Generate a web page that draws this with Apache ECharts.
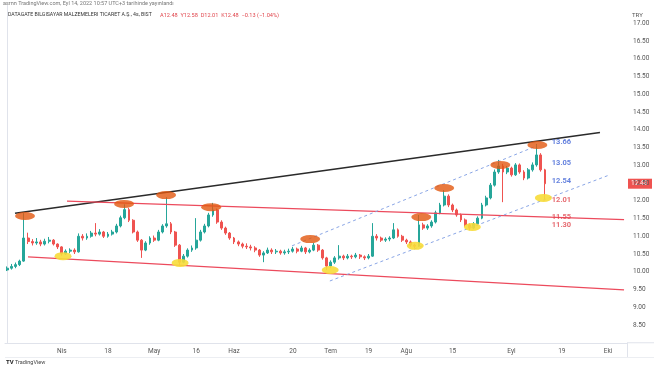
<!DOCTYPE html>
<html><head><meta charset="utf-8">
<script src="https://cdn.jsdelivr.net/npm/echarts@6/dist/echarts.min.js"></script>
<style>html,body{margin:0;padding:0;background:#fff}#c{width:654px;height:366px}</style>
</head><body><div id="c"></div>
<script>
// ---- data ----
const slotCount = 148; // trading-day slots on the time axis (incl. empty future space)
const xLabelIdx  = [13, 24, 35, 45, 54, 68, 77, 86, 95, 106, 120, 132, 143];
const xLabelText = ['Nis', '18', 'May', '16', 'Haz', '20', 'Tem', '19', 'Ağu', '15', 'Eyl', '19', 'Eki'];

const openV = [
 10.05,10.10,10.15,10.20,10.30,10.95,10.85,10.81,10.84,10.78,
 10.86,10.89,10.78,10.70,10.50,10.58,10.61,10.56,11.00,10.95,
 11.00,11.09,11.06,11.12,11.00,11.06,11.12,11.29,11.52,11.75,
 11.45,11.12,10.89,10.61,10.81,10.95,10.89,11.12,11.29,11.35,
 11.12,10.75,10.27,10.44,10.61,10.67,10.89,11.12,11.29,11.60,
 11.74,11.40,11.23,11.09,10.95,10.84,10.78,10.72,10.70,10.67,
 10.61,10.47,10.53,10.61,10.56,10.58,10.53,10.56,10.58,10.64,
 10.58,10.67,10.56,10.61,10.75,10.61,10.39,10.16,10.27,10.39,
 10.44,10.39,10.44,10.42,10.47,10.42,10.39,10.44,11.00,10.95,
 10.89,10.92,10.95,11.18,11.00,10.89,10.84,10.75,10.72,11.32,
 11.23,11.29,11.40,11.66,11.88,12.13,11.88,11.74,11.60,11.46,
 11.32,11.23,11.35,11.51,11.88,12.08,12.44,12.81,12.98,12.81,
 12.92,12.73,13.01,12.81,12.64,12.87,13.01,13.29,12.87];
const closeV = [
 10.10,10.15,10.20,10.30,10.95,10.85,10.81,10.84,10.78,10.86,
 10.89,10.78,10.70,10.50,10.58,10.61,10.56,11.00,10.95,11.00,
 11.09,11.06,11.12,11.00,11.06,11.12,11.29,11.52,11.75,11.45,
 11.12,10.89,10.61,10.81,10.95,10.89,11.12,11.29,11.35,11.12,
 10.75,10.27,10.44,10.61,10.67,10.89,11.12,11.29,11.60,11.74,
 11.40,11.23,11.09,10.95,10.84,10.78,10.72,10.70,10.67,10.61,
 10.47,10.53,10.61,10.56,10.58,10.53,10.56,10.58,10.64,10.58,
 10.67,10.56,10.61,10.75,10.61,10.39,10.16,10.27,10.39,10.44,
 10.39,10.44,10.42,10.47,10.42,10.39,10.44,11.00,10.95,10.89,
 10.92,10.95,11.18,11.00,10.89,10.84,10.75,10.72,11.32,11.23,
 11.29,11.40,11.66,11.88,12.13,11.88,11.74,11.60,11.46,11.32,
 11.23,11.35,11.51,11.88,12.08,12.44,12.81,12.98,12.81,12.92,
 12.73,13.01,12.81,12.64,12.87,13.01,13.29,12.87,12.48];
const lowV = [
 10.02,10.06,10.10,10.16,10.28,10.78,10.74,10.76,10.72,10.74,
 10.80,10.74,10.64,10.45,10.47,10.52,10.50,10.54,10.88,10.90,
 10.96,11.00,11.02,10.95,10.96,11.02,11.08,11.25,11.48,11.40,
 11.08,10.84,10.39,10.58,10.76,10.84,10.86,11.08,11.24,11.06,
 10.70,10.19,10.24,10.40,10.56,10.62,10.85,11.08,11.25,11.55,
 11.35,11.18,11.04,10.90,10.78,10.72,10.66,10.64,10.60,10.55,
 10.42,10.27,10.50,10.50,10.50,10.48,10.48,10.50,10.54,10.52,
 10.55,10.50,10.52,10.58,10.56,10.34,10.05,10.10,10.22,10.34,
 10.33,10.35,10.36,10.38,10.36,10.33,10.35,10.42,10.88,10.84,
 10.84,10.86,10.92,10.96,10.84,10.78,10.70,10.66,10.70,11.18,
 11.18,11.24,11.36,11.62,11.84,11.82,11.68,11.55,11.40,11.26,
 11.17,11.20,11.30,11.48,11.84,12.04,12.40,12.76,11.96,12.75,
 12.68,12.70,12.76,12.58,12.60,12.82,12.96,12.82,12.01];
const highV = [
 10.15,10.22,10.26,10.34,11.65,11.10,10.92,10.95,10.90,10.93,
 10.98,10.92,10.80,10.72,10.63,10.66,10.66,11.08,11.06,11.08,
 11.15,11.37,11.20,11.15,11.12,11.18,11.35,11.58,11.90,11.80,
 11.48,11.16,10.92,10.86,11.00,11.02,11.18,11.34,12.10,11.40,
 11.15,10.78,10.50,10.66,10.74,11.51,11.18,11.35,11.66,11.94,
 11.78,11.45,11.27,11.12,10.98,10.88,10.82,10.80,10.76,10.72,
 10.64,10.58,10.68,10.66,10.64,10.62,10.62,10.65,10.70,10.68,
 10.73,10.70,10.66,10.81,10.78,10.64,10.42,10.32,10.44,10.75,
 10.48,10.50,10.48,10.53,10.50,10.46,10.50,11.37,11.06,10.99,
 10.97,11.00,11.37,11.22,11.04,10.93,10.88,10.79,11.60,11.38,
 11.34,11.45,11.72,11.94,12.30,12.18,11.92,11.78,11.64,11.50,
 11.36,11.40,11.56,11.94,12.14,12.50,12.88,13.15,13.04,12.98,
 12.96,13.06,13.05,12.86,12.92,13.08,13.60,13.34,12.90];

// trend lines: [slot, price] endpoints
const blackLine   = [[1.88, 11.65], [141.07, 13.92]];
const redTopLine  = [[14.25, 11.99], [146.8, 11.47]];
const redBotLine  = [[4.97, 10.42], [146.8, 9.49]];
const blueUpLine  = [[67.8, 10.73], [126.1, 13.55]];
const blueLowLine = [[76.8, 9.74], [143.4, 12.73]];

// highlighted peaks (orange) and troughs (yellow)
const orangeX = [4.26, 27.83, 37.83, 48.55, 72.12, 98.55, 104.0, 117.36, 126.17];
const orangeY = [11.57, 11.91, 12.16, 11.82, 10.92, 11.54, 12.36, 13.01, 13.57];
const yellowX = [13.31, 41.17, 76.88, 97.12, 110.7, 127.6];
const yellowY = [10.44, 10.25, 10.05, 10.73, 11.26, 12.08];

// level annotations
const levelSlot = 129.6;
const blueLevels = [13.66, 13.05, 12.54];
const redLevels  = [12.01, 11.55, 11.30];
const lastPrice = 12.48;

// ---- build ----
const categories = Array.from({length: slotCount}, (_, i) => String(i));
const candles = openV.map((o, i) => [o, closeV[i], lowV[i], highV[i]]);
const zip = (xs, ys) => xs.map((x, i) => [x, ys[i]]);

const chart = echarts.init(document.getElementById('c'), null, {renderer: 'canvas'});
const lineS = (data, color, width, type) => ({
  type: 'line', xAxisIndex: 1, data: data, symbol: 'none', silent: true, z: 3,
  lineStyle: {color: color, width: width, type: type}
});
const textS = (vals, color) => ({
  type: 'scatter', xAxisIndex: 1, symbolSize: 0, silent: true, z: 6,
  data: vals.map(v => [levelSlot, v]),
  label: {show: true, position: 'right', distance: 0, color: color, fontSize: 7.5, fontWeight: 'bold',
    fontFamily: 'Roboto, Arial, sans-serif', formatter: p => p.value[1].toFixed(2)}
});

chart.setOption({
  animation: false,
  backgroundColor: '#ffffff',
  grid: {left: 5, right: 27, top: 5.5, bottom: 23.25},
  xAxis: [
    {type: 'category', data: categories, boundaryGap: true,
     axisLine: {show: true, lineStyle: {color: '#e0e3eb'}}, axisTick: {show: false},
     splitLine: {show: false},
     axisLabel: {interval: (i) => xLabelIdx.indexOf(i) >= 0,
       formatter: (v, i) => { const k = xLabelIdx.indexOf(Number(v)); return k >= 0 ? xLabelText[k] : ''; },
       fontSize: 6.5, color: '#555', margin: 5, fontFamily: 'Roboto, Arial, sans-serif'}},
    {type: 'value', min: -0.5, max: slotCount - 0.5, show: false}
  ],
  yAxis: {type: 'value', position: 'right', min: 8, max: 17.5, interval: 0.5,
    axisLine: {show: true, lineStyle: {color: '#e0e3eb'}}, axisTick: {show: false},
    splitLine: {show: false},
    axisLabel: {showMinLabel: false, showMaxLabel: false, fontSize: 6.5, color: '#555', margin: 6,
      fontFamily: 'Roboto, Arial, sans-serif', formatter: v => v.toFixed(2)}},
  series: [
    {type: 'candlestick', data: candles, barWidth: 2.4, z: 2,
     itemStyle: {color: '#26a69a', color0: '#ef5350', borderColor: '#26a69a', borderColor0: '#ef5350', borderWidth: 1}},
    lineS(blackLine, '#2a2a2a', 1.5, 'solid'),
    lineS(redTopLine, '#ec4a5c', 1.2, 'solid'),
    lineS(redBotLine, '#ec4a5c', 1.2, 'solid'),
    lineS(blueUpLine, '#8aa6e6', 1, [3, 3]),
    lineS(blueLowLine, '#8aa6e6', 1, [3, 3]),
    {type: 'scatter', xAxisIndex: 1, data: zip(orangeX, orangeY), symbol: 'circle', symbolSize: [20, 8], z: 5,
     itemStyle: {color: '#e2570f'}},
    {type: 'scatter', xAxisIndex: 1, data: zip(yellowX, yellowY), symbol: 'circle', symbolSize: [17, 8], z: 5,
     itemStyle: {color: '#f7dc3a', opacity: 0.9}},
    textS(blueLevels, '#3f63d6'),
    textS(redLevels, '#e0464d')
  ]
});

const yLast = chart.convertToPixel({yAxisIndex: 0}, lastPrice);
const f = 'Roboto, Arial, sans-serif';
chart.setOption({
  graphic: [
    {type: 'text', left: 3, top: 1, style: {text: 'asrnn TradingView.com, Eyl 14, 2022 10:57 UTC+3 tarihinde yayınlandı', fill: '#777', font: '5.5px ' + f}},
    {type: 'text', left: 8, top: 12.5, style: {text: 'DATAGATE BILGISAYAR MALZEMELERI TICARET A.Ş., 4s, BIST', fill: '#333', font: '5.2px ' + f}},
    {type: 'text', left: 160, top: 12.5, style: {text: 'A12.48  Y12.58  D12.01  K12.48  −0.13 (−1.04%)', fill: '#e0464d', font: '5.6px ' + f}},
    {type: 'text', left: 632, top: 12, style: {text: 'TRY', fill: '#555', font: '6px ' + f}},
    {type: 'line', shape: {x1: 627.5, y1: 342.75, x2: 627.5, y2: 357}, style: {stroke: '#e0e3eb', lineWidth: 1}},
    {type: 'line', shape: {x1: 5, y1: 357.5, x2: 654, y2: 357.5}, style: {stroke: '#eceef2', lineWidth: 1}},
    {type: 'line', shape: {x1: 627, y1: 342.75, x2: 654, y2: 342.75}, style: {stroke: '#e0e3eb', lineWidth: 1}},
    {type: 'rect', shape: {x: 628, y: yLast - 5, width: 24, height: 10}, style: {fill: '#ef5350'}},
    {type: 'text', left: 631, top: yLast - 4, style: {text: lastPrice.toFixed(2), fill: '#fff', font: '6.5px ' + f}},
    {type: 'text', left: 6, top: 359, style: {text: 'TV', fill: '#222', font: 'bold 6px ' + f}},
    {type: 'text', left: 15, top: 359.5, style: {text: 'TradingView', fill: '#444', font: '5.5px ' + f}}
  ]
});
</script>
</body></html>
